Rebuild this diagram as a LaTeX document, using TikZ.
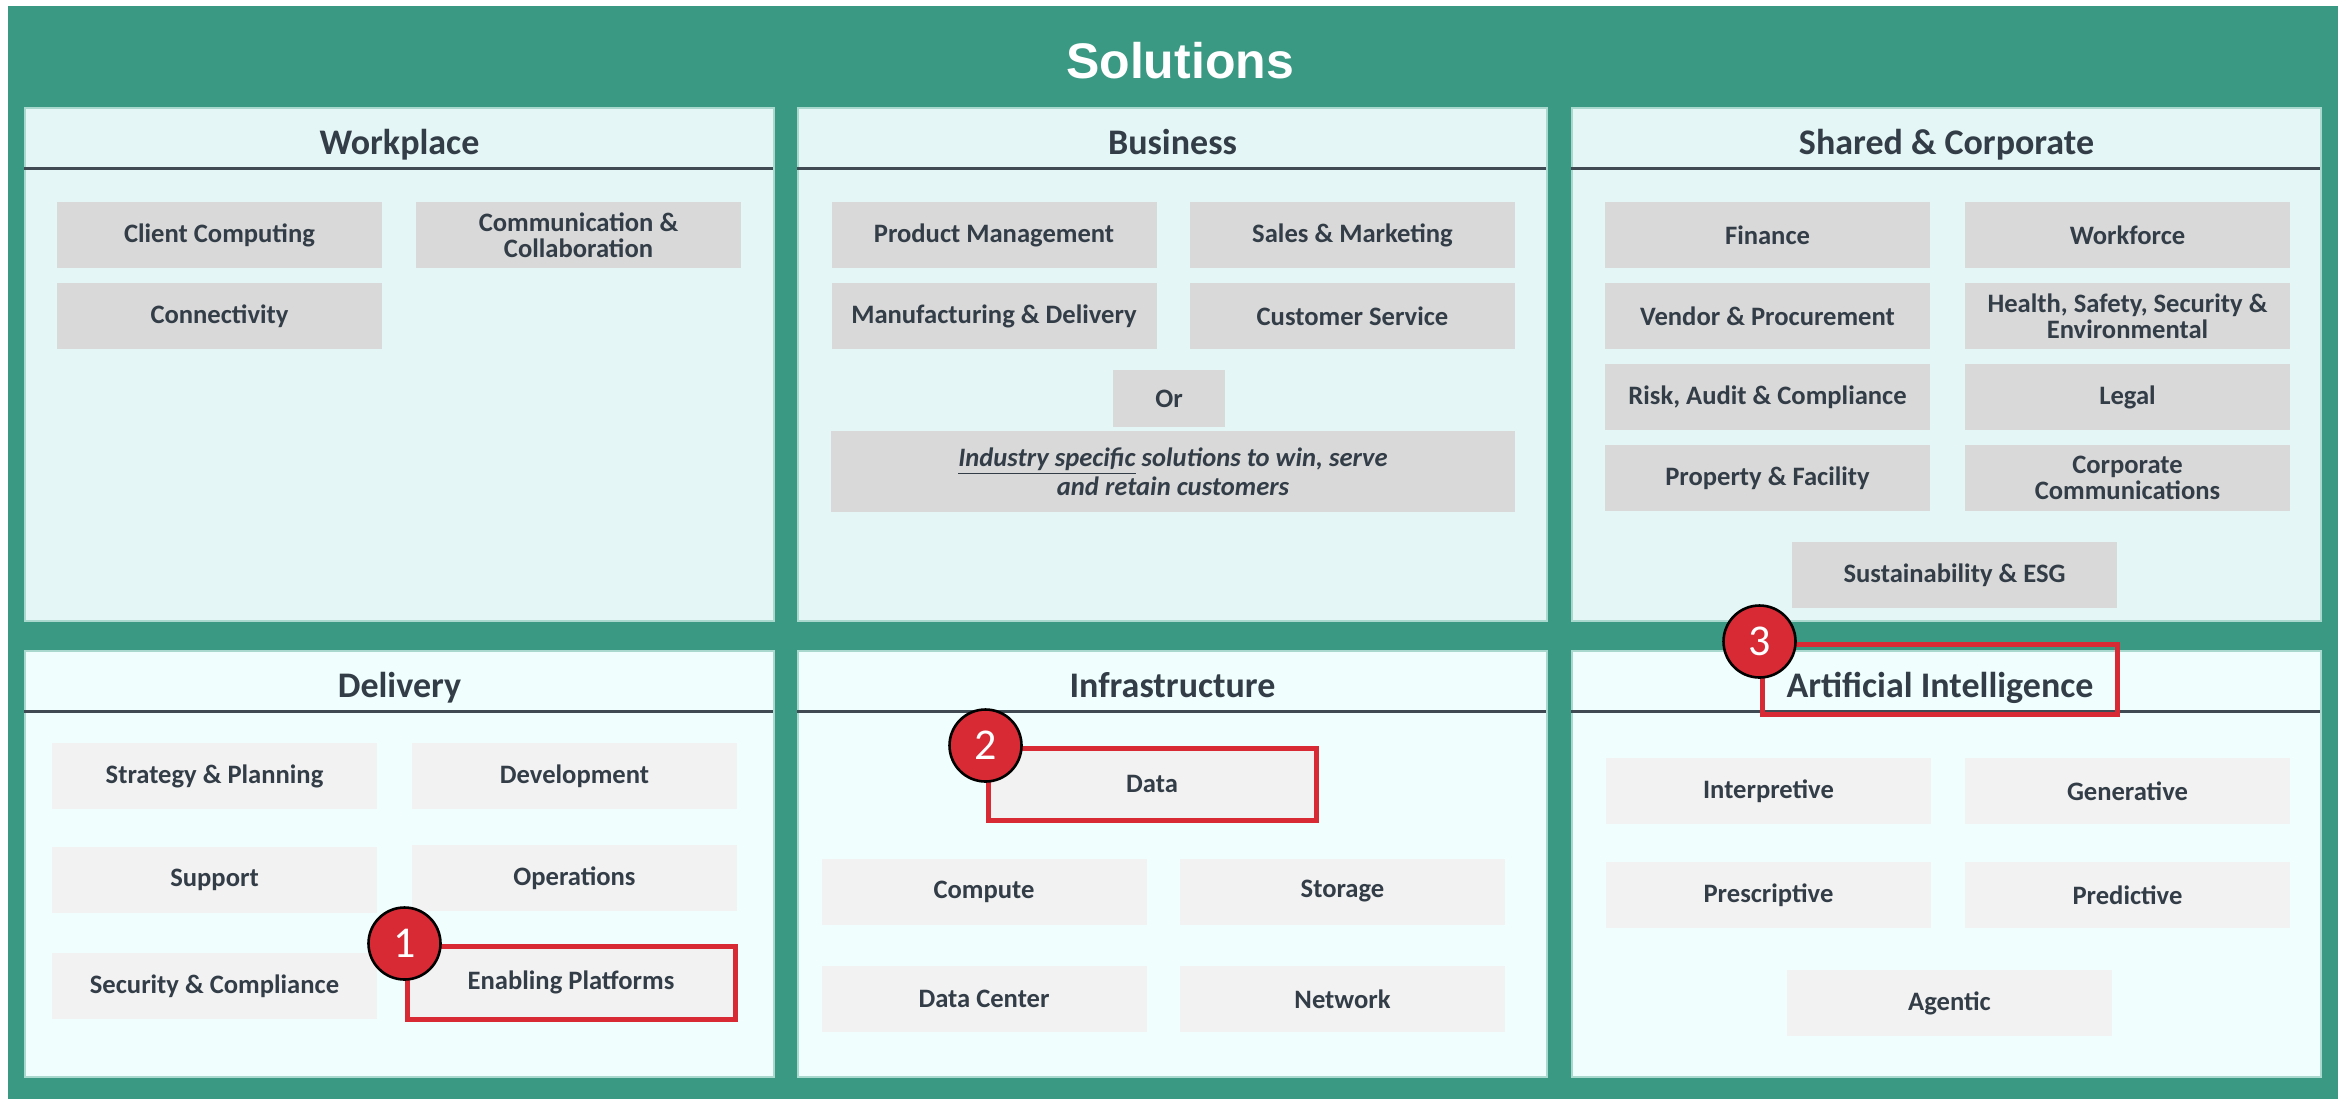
\documentclass[tikz,border=0pt]{standalone}
\usepackage{fontspec}
\setmainfont{Carlito}
\newfontfamily\titlefont{Liberation Sans}
\usetikzlibrary{calc}
\definecolor{bggreen}{HTML}{3A9982}
\definecolor{paneltop}{HTML}{E4F6F5}
\definecolor{panelbot}{HTML}{F0FFFE}
\definecolor{panelrim}{HTML}{A9D9CE}
\definecolor{graytop}{HTML}{D9D9D9}
\definecolor{graybot}{HTML}{F2F2F2}
\definecolor{hired}{HTML}{D72A35}
\definecolor{txt}{HTML}{333D47}
\definecolor{hline}{HTML}{3F4A52}
\begin{document}
\begin{tikzpicture}[x=0.5pt,y=-0.5pt,
  panel/.style={draw=panelrim, line width=0.6pt, inner sep=0pt, minimum width=374.5pt},
  ptop/.style={panel, fill=paneltop, minimum height=256.5pt},
  pbot/.style={panel, fill=panelbot, minimum height=213pt},
  head/.style={anchor=base, font=\bfseries\fontsize{18}{21}\selectfont, text=txt, inner sep=0pt},
  hrule/.style={draw=hline, line width=1.5pt},
  gbox/.style={inner sep=0pt, minimum width=162.5pt, minimum height=33pt, align=center,
    font=\bfseries\fontsize{13.3}{12.8}\selectfont, text=txt},
  gtop/.style={gbox, fill=graytop},
  gbot/.style={gbox, fill=graybot},
  redframe/.style={draw=hired, line width=2.5pt},
  badge/.style={circle, fill=hired, draw=black, line width=1.3pt, minimum size=36pt, inner sep=0pt,
    text=white, font=\fontsize{22}{22}\selectfont}
]
\useasboundingbox (0,0) rectangle (2348,1099);
\fill[bggreen] (8,6) rectangle (2338,1099);
\node[anchor=base, text=white, font=\titlefont\bfseries\fontsize{25}{28}\selectfont, inner sep=0pt] (title) at (1180,78) {Solutions};

% ---------- panels ----------
\node[ptop] (wp) at (399.5,364.5) {};
\node[ptop] (bus) at (1172.5,364.5) {};
\node[ptop] (shc) at (1946.5,364.5) {};
\node[pbot] (del) at (399.5,864) {};
\node[pbot] (inf) at (1172.5,864) {};
\node[pbot] (ai) at (1946.5,864) {};

\foreach \p in {wp,bus,shc}{\draw[hrule] (\p.north west) ++(0,61) -- ++(749,0);}
\foreach \p in {del,inf,ai}{\draw[hrule] (\p.north west) ++(0,61) -- ++(749,0);}

\node[head] (wpt) at (399.5,154) {Workplace};
\node[head] (bust) at (1172.5,154) {Business};
\node[head] (shct) at (1946.5,154) {Shared \& Corporate};
\node[head] (delt) at (399.5,697) {Delivery};
\node[head] (inft) at (1172.5,697) {Infrastructure};
\node[head] (ait) at (1940,697) {Artificial Intelligence};

% ---------- Workplace ----------
\node[gtop] (cc) at (219.5,235) {Client Computing};
\node[gtop] (comm) at (578.5,235) {Communication \&\\Collaboration};
\node[gtop] (conn) at (219.5,316) {Connectivity};

% ---------- Business ----------
\node[gtop] (pm) at (994,235) {Product Management};
\node[gtop] (sm) at (1352.5,235) {Sales \& Marketing};
\node[gtop] (md) at (994,316) {Manufacturing \& Delivery};
\node[gtop] (cs) at (1352.5,316) {Customer Service};
\node[gtop, minimum width=56pt, minimum height=28.5pt] (or) at (1169,398.5) {Or};
\node[gtop, minimum width=342pt, minimum height=40.5pt, font=\bfseries\itshape\fontsize{13.3}{14.5}\selectfont] (ind) at (1173,471.5)
  {\underline{Industry specific} solutions to win, serve\\and retain customers};

% ---------- Shared & Corporate ----------
\node[gtop] (fin) at (1767.5,235) {Finance};
\node[gtop] (wf) at (2127.5,235) {Workforce};
\node[gtop] (vp) at (1767.5,316) {Vendor \& Procurement};
\node[gtop] (hsse) at (2127.5,316) {Health, Safety, Security \&\\Environmental};
\node[gtop] (rac) at (1767.5,397) {Risk, Audit \& Compliance};
\node[gtop] (leg) at (2127.5,397) {Legal};
\node[gtop] (pf) at (1767.5,478) {Property \& Facility};
\node[gtop] (ccom) at (2127.5,478) {Corporate\\Communications};
\node[gtop] (sus) at (1954.5,575) {Sustainability \& ESG};

% ---------- Delivery ----------
\node[gbot] (sp) at (214.5,776) {Strategy \& Planning};
\node[gbot] (dev) at (574.5,776) {Development};
\node[gbot] (sup) at (214.5,880) {Support};
\node[gbot] (ops) at (574.5,878) {Operations};
\node[gbot] (sec) at (214.5,986) {Security \& Compliance};
\node[gbot, redframe, minimum width=164pt, minimum height=36.5pt] (ep) at (571,982.5) {Enabling Platforms};

% ---------- Infrastructure ----------
\node[gbot, redframe, minimum width=164pt, minimum height=36pt] (data) at (1152,784) {Data};
\node[gbot] (comp) at (984,891.5) {Compute};
\node[gbot] (stor) at (1342.5,891.5) {Storage};
\node[gbot] (dc) at (984,999) {Data Center};
\node[gbot] (net) at (1342.5,999) {Network};

% ---------- Artificial Intelligence ----------
\node[gbot] (interp) at (1768.5,791) {Interpretive};
\node[gbot] (gen) at (2127.5,791) {Generative};
\node[gbot] (presc) at (1768.5,895) {Prescriptive};
\node[gbot] (pred) at (2127.5,895) {Predictive};
\node[gbot] (agent) at (1949.5,1003) {Agentic};

% AI highlight frame
\node[redframe, inner sep=0pt, minimum width=177.5pt, minimum height=35pt] (aiframe) at (1939.5,679) {};

% ---------- badges ----------
\node[badge] (b1) at (ep.north west) {1};
\node[badge] (b2) at (data.north west) {2};
\node[badge] (b3) at (aiframe.north west) {3};
\end{tikzpicture}
\end{document}
